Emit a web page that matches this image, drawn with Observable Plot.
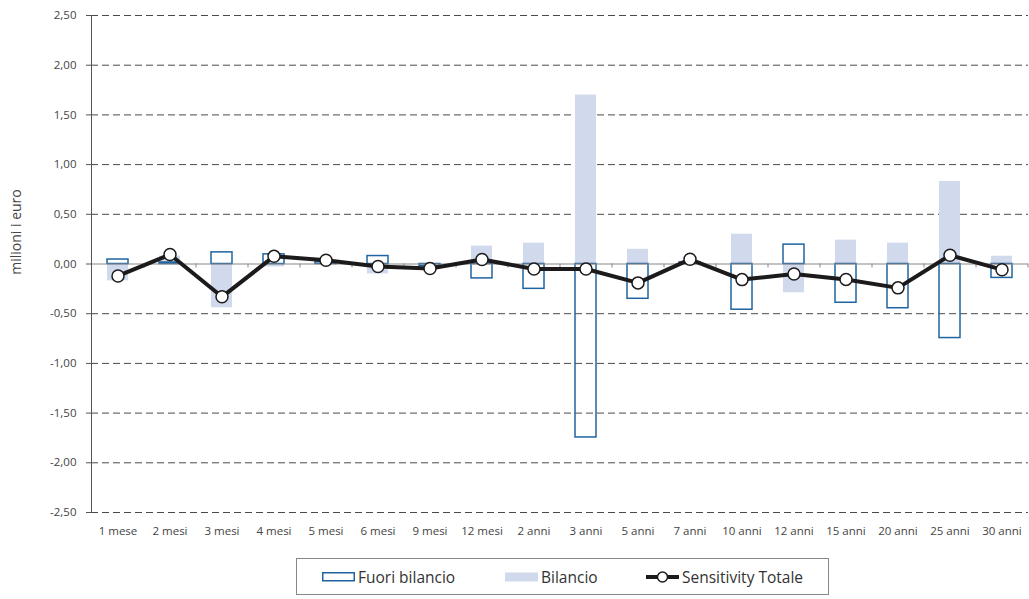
<!DOCTYPE html>
<html>
<head>
<meta charset="utf-8">
<script src="https://cdn.jsdelivr.net/npm/d3@7"></script>
<script src="https://cdn.jsdelivr.net/npm/@observablehq/plot@0.6"></script>
<style>
  body { margin: 0; background: #fff; font-family: "Open Sans", sans-serif; }
  #wrap { position: relative; width: 1029px; height: 599px; }
  #legend { position: absolute; left: 296px; top: 558px; width: 533px; height: 37px; border: 1px solid #888; box-sizing: border-box; font-size: 15.5px; color: #333; }
  #legend .it { position: absolute; top: 0; height: 100%; display: flex; align-items: center; }
</style>
</head>
<body>
<div id="wrap">
  <div id="chart"></div>
  <div id="legend"></div>
</div>
<script>
const categories = ["1 mese","2 mesi","3 mesi","4 mesi","5 mesi","6 mesi","9 mesi","12 mesi","2 anni","3 anni","5 anni","7 anni","10 anni","12 anni","15 anni","20 anni","25 anni","30 anni"];
const fuoriBilancio = [0.045, 0.015, 0.117, 0.097, 0.02, 0.08, -0.02, -0.145, -0.25, -1.745, -0.35, 0.015, -0.46, 0.195, -0.39, -0.445, -0.745, -0.14];
const bilancio = [-0.17, 0.08, -0.44, -0.03, 0.02, -0.10, -0.025, 0.18, 0.21, 1.70, 0.148, 0.03, 0.30, -0.29, 0.24, 0.21, 0.83, 0.078];
const sensitivityTotale = [-0.12, 0.095, -0.33, 0.077, 0.037, -0.025, -0.045, 0.045, -0.05, -0.05, -0.19, 0.047, -0.157, -0.10, -0.155, -0.24, 0.088, -0.057];
const yTicks = [-2.5, -2, -1.5, -1, -0.5, 0, 0.5, 1, 1.5, 2, 2.5];
const seriesNames = ["Fuori bilancio", "Bilancio", "Sensitivity Totale"];
const yLabel = "milioni i euro";

const data = categories.map((c, i) => ({cat: c, fuori: fuoriBilancio[i], bil: bilancio[i], tot: sensitivityTotale[i]}));
const fmt = d => d.toFixed(2).replace(".", ",");
const blue = "#1f64a0", light = "#d1d9ec", dark = "#1c1a1a";

const chart = Plot.plot({
  width: 1029,
  height: 548,
  marginLeft: 91,
  marginRight: 1,
  marginTop: 15,
  marginBottom: 36,
  style: {fontFamily: "'Open Sans', sans-serif", fontSize: "11px", color: "#444"},
  x: {domain: categories, paddingInner: 0.6, paddingOuter: 0.3},
  y: {domain: [-2.5, 2.5]},
  marks: [
    Plot.gridY(yTicks.filter(d => d !== 0), {stroke: "#4a4a4a", strokeOpacity: 1, strokeDasharray: "7,4", strokeWidth: 1}),
    Plot.barY(data, {x: "cat", y: "bil", fill: light}),
    Plot.barY(data, {x: "cat", y: "fuori", fill: "none", stroke: blue, strokeWidth: 1.5}),
    Plot.ruleY([0], {stroke: "#888", strokeWidth: 1.2}),
    Plot.ruleX(categories, {x: d => d, y1: 0, y2: -0.04, dx: 26, stroke: "#888"}),
    Plot.frame({anchor: "left", stroke: "#555"}),
    Plot.axisY({ticks: yTicks, tickFormat: fmt, tickSize: 5, tickPadding: 10, label: null, stroke: "#555", fill: "#444", fontSize: 11.5}),
    Plot.axisX({tickSize: 0, tickPadding: 14, label: null, fill: "#444", fontSize: 11.5}),
    Plot.text([yLabel], {frameAnchor: "left", textAnchor: "middle", dx: -75, dy: -32, rotate: -90, fontSize: 14, fill: "#444"}),
    Plot.line(data, {x: "cat", y: "tot", stroke: dark, strokeWidth: 4, strokeLinejoin: "miter"}),
    Plot.dot(data, {x: "cat", y: "tot", r: 6, fill: "white", stroke: dark, strokeWidth: 1.5})
  ]
});
document.getElementById("chart").appendChild(chart);

const legend = document.getElementById("legend");
const items = [
  {left: 25, svg: `<svg width="33" height="10"><rect x="0.75" y="0.75" width="31.5" height="8" fill="none" stroke="${blue}" stroke-width="1.5"/></svg>`},
  {left: 208, svg: `<svg width="33" height="10"><rect x="0" y="0.5" width="33" height="9" fill="${light}"/></svg>`},
  {left: 349, svg: `<svg width="33" height="14"><line x1="0" y1="7" x2="33" y2="7" stroke="${dark}" stroke-width="4"/><circle cx="16.5" cy="7" r="5" fill="white" stroke="${dark}" stroke-width="1.5"/></svg>`}
];
items.forEach((it, i) => {
  const d = document.createElement("div");
  d.className = "it";
  d.style.left = it.left + "px";
  d.innerHTML = it.svg + `<span style="margin-left:3px">${seriesNames[i]}</span>`;
  legend.appendChild(d);
});
</script>
</body>
</html>
